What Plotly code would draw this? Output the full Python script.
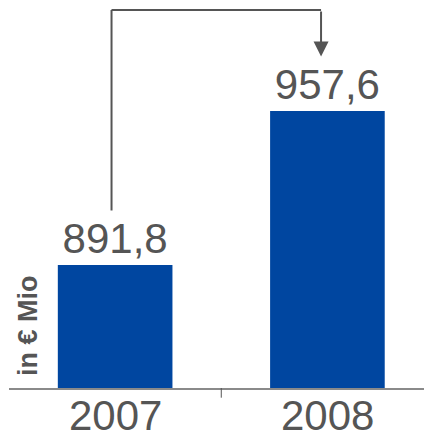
import plotly.graph_objects as go

categories = ["2007", "2008"]
values = [891.8, 957.6]
value_labels = ["891,8", "957,6"]
y_title = "in € Mio"

TEXT = "#555555"
BAR = "#0046A0"
FONT = "Liberation Sans, Arial, sans-serif"

y_min, y_max = 839.24, 1005.05
clear = 23.3          # gap between bar value and connector end (data units)
top_y = 1000.8        # connector horizontal line level

fig = go.Figure()
fig.add_trace(go.Bar(
    x=categories, y=values, width=0.54,
    marker=dict(color=BAR, line=dict(width=0)),
    text=value_labels, textposition="outside", cliponaxis=False,
    textfont=dict(size=42, color=TEXT, family=FONT),
))

x_start = 0 - 0.017
x_end = 1 - 0.03
line_style = dict(color=TEXT, width=2)
fig.add_shape(type="line", xref="x", yref="y", x0=x_start, x1=x_start,
              y0=values[0] + clear, y1=top_y, line=line_style)
fig.add_shape(type="line", xref="x", yref="y", x0=x_start, x1=x_end,
              y0=top_y, y1=top_y, line=line_style)
fig.add_annotation(x=x_end, y=values[1] + clear, ax=x_end, ay=top_y,
                   xref="x", yref="y", axref="x", ayref="y", text="",
                   showarrow=True, arrowhead=2, arrowsize=1.5,
                   arrowwidth=2, arrowcolor=TEXT)

# tick between categories
fig.add_shape(type="line", xref="x", yref="paper", x0=0.5, x1=0.5,
              y0=0, y1=-0.025, line=dict(color=TEXT, width=1))

# category labels
for i, cat in enumerate(categories):
    fig.add_annotation(x=i, y=0, xref="x", yref="paper", text=cat,
                       xanchor="center", yanchor="middle", yshift=-27,
                       showarrow=False, borderpad=0,
                       font=dict(size=42, color=TEXT, family=FONT))

fig.add_annotation(text="<b>" + y_title + "</b>", textangle=-90,
                   xref="paper", yref="paper", x=0.046, y=0.16,
                   xanchor="center", yanchor="middle", showarrow=False,
                   font=dict(size=27, color=TEXT, family=FONT))

fig.update_layout(
    width=424, height=438,
    margin=dict(l=9, r=0, t=0, b=50, autoexpand=False),
    paper_bgcolor="white", plot_bgcolor="white",
    showlegend=False,
    font=dict(family=FONT, color=TEXT),
    xaxis=dict(type="category", range=[-0.5, 1.455], showgrid=False,
               showline=True, linecolor="#8a8a8a", linewidth=1.5,
               ticks="", showticklabels=False, automargin=False,
               zeroline=False),
    yaxis=dict(range=[y_min, y_max], visible=False, showgrid=False),
)

fig.write_html("out.html", config={"displayModeBar": False},
               post_script="document.body.style.margin='0';document.body.style.overflow='hidden';")
